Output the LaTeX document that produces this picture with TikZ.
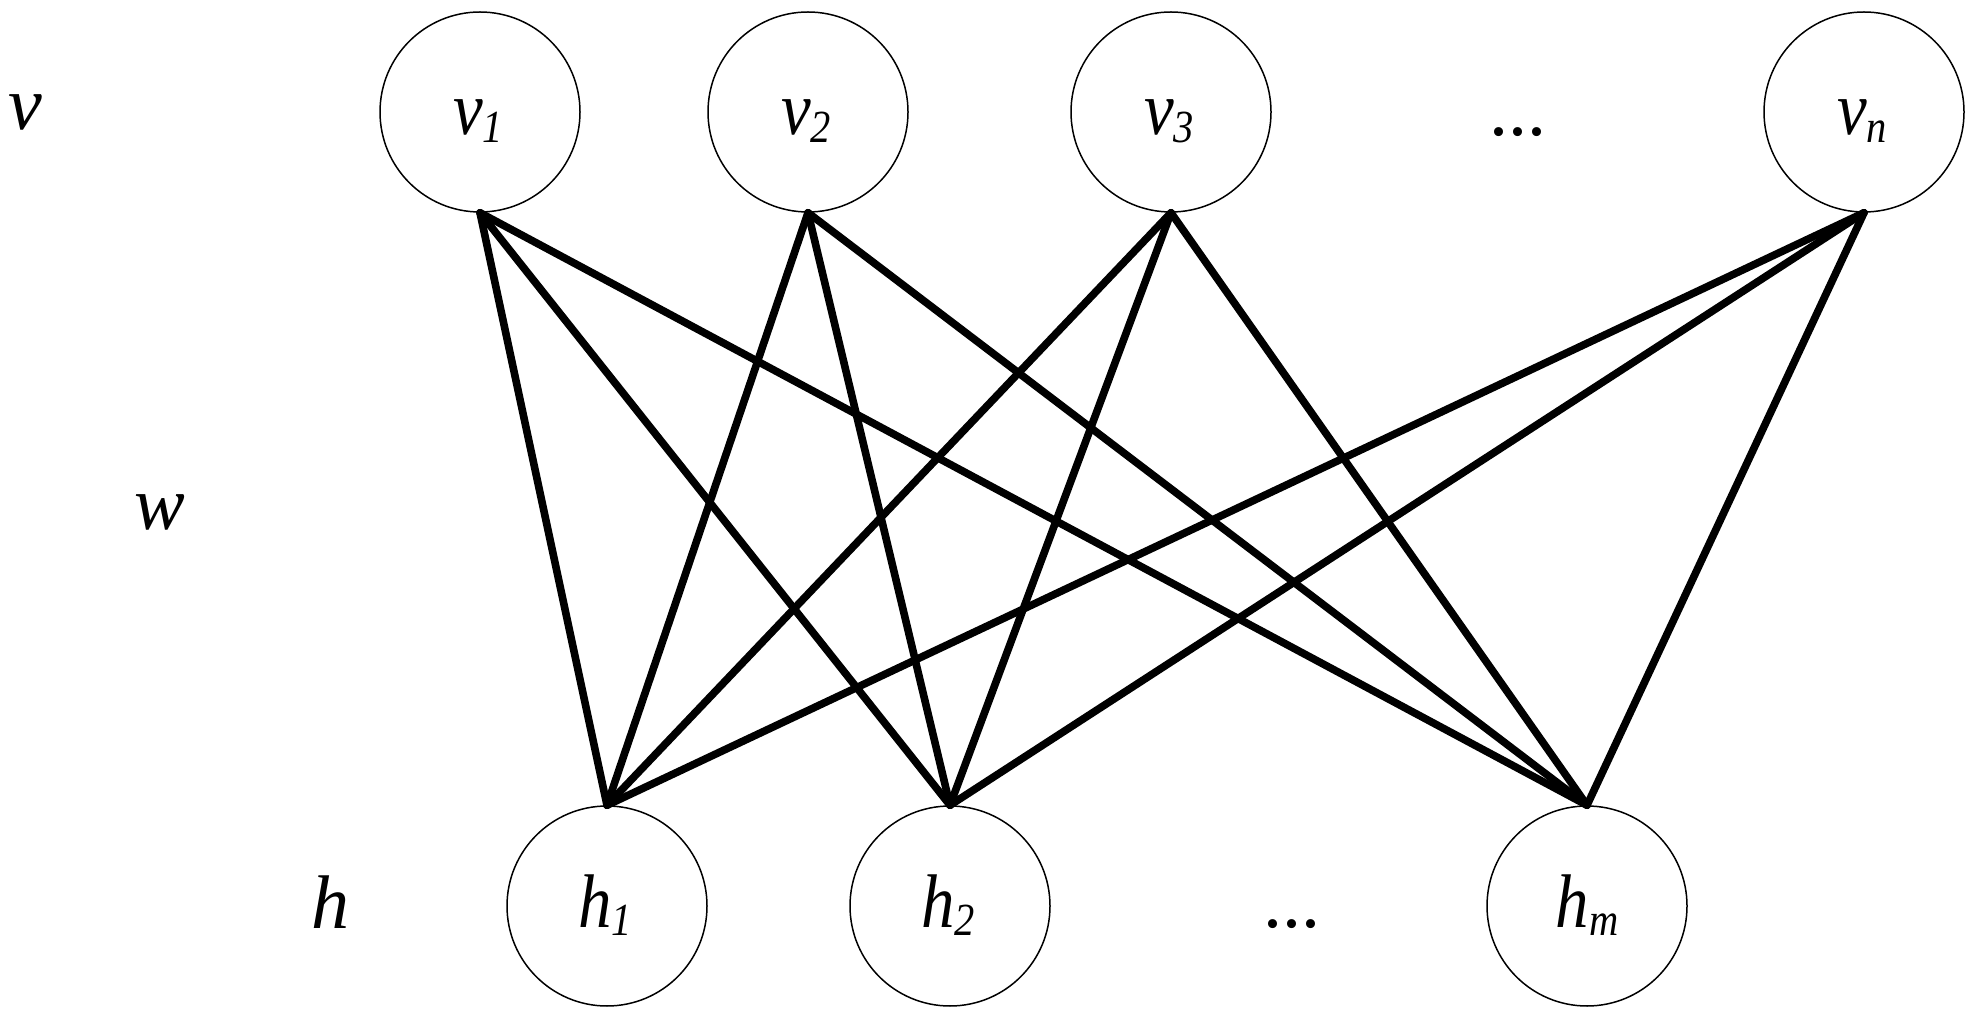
\documentclass[tikz,border=0pt]{standalone}
\usepackage{graphicx}
\usepackage{fontspec}
\setmainfont{Liberation Serif}
\newcommand{\nlab}[2]{\scalebox{0.88}[1]{\fontsize{38}{40}\selectfont\itshape #1\raisebox{-4pt}{\fontsize{23}{24}\selectfont #2}}}
\newcommand{\slab}[1]{{\fontsize{38}{40}\selectfont\itshape #1}}
\begin{document}
\begin{tikzpicture}[x=0.5pt,y=-0.5pt,
  unit/.style={circle,draw=black,line width=0.75pt,minimum size=100pt,inner sep=0pt},
  lbl/.style={anchor=base,inner sep=0pt},
  edge/.style={line width=3.8pt,line cap=round}]
\useasboundingbox (0,0) rectangle (1974,1020);
% visible units
\node[unit] (v1) at (480,112) {};
\node[unit] (v2) at (808,112) {};
\node[unit] (v3) at (1171,112) {};
\node[unit] (vn) at (1864,112) {};
% hidden units
\node[unit] (h1) at (607,906) {};
\node[unit] (h2) at (950,906) {};
\node[unit] (hm) at (1587,906) {};
% labels in units
\node[lbl] (lv1) at (478,135) {\nlab{v}{1}};
\node[lbl] (lv2) at (806,135) {\nlab{v}{2}};
\node[lbl] (lv3) at (1169,135) {\nlab{v}{3}};
\node[lbl] (lvn) at (1862,135) {\nlab{v}{n}};
\node[lbl] (lh1) at (605,927) {\nlab{h}{1}};
\node[lbl] (lh2) at (948,927) {\nlab{h}{2}};
\node[lbl] (lhm) at (1587,927) {\nlab{h}{m}};
% ellipses
\node[lbl] (dv) at (1518,136) {\fontsize{38}{40}\selectfont ...};
\node[lbl] (dh) at (1292,927) {\fontsize{38}{40}\selectfont ...};
% layer labels
\node[lbl] (lv) at (25,130) {\slab{v}};
\node[lbl] (lw) at (160,530) {\slab{w}};
\node[lbl] (lh) at (330,928) {\slab{h}};
% connections
\foreach \a in {v1,v2,v3,vn}{
  \foreach \b in {h1,h2,hm}{
    \draw[edge] (\a.south) -- (\b.north);
  }
}
\end{tikzpicture}
\end{document}
